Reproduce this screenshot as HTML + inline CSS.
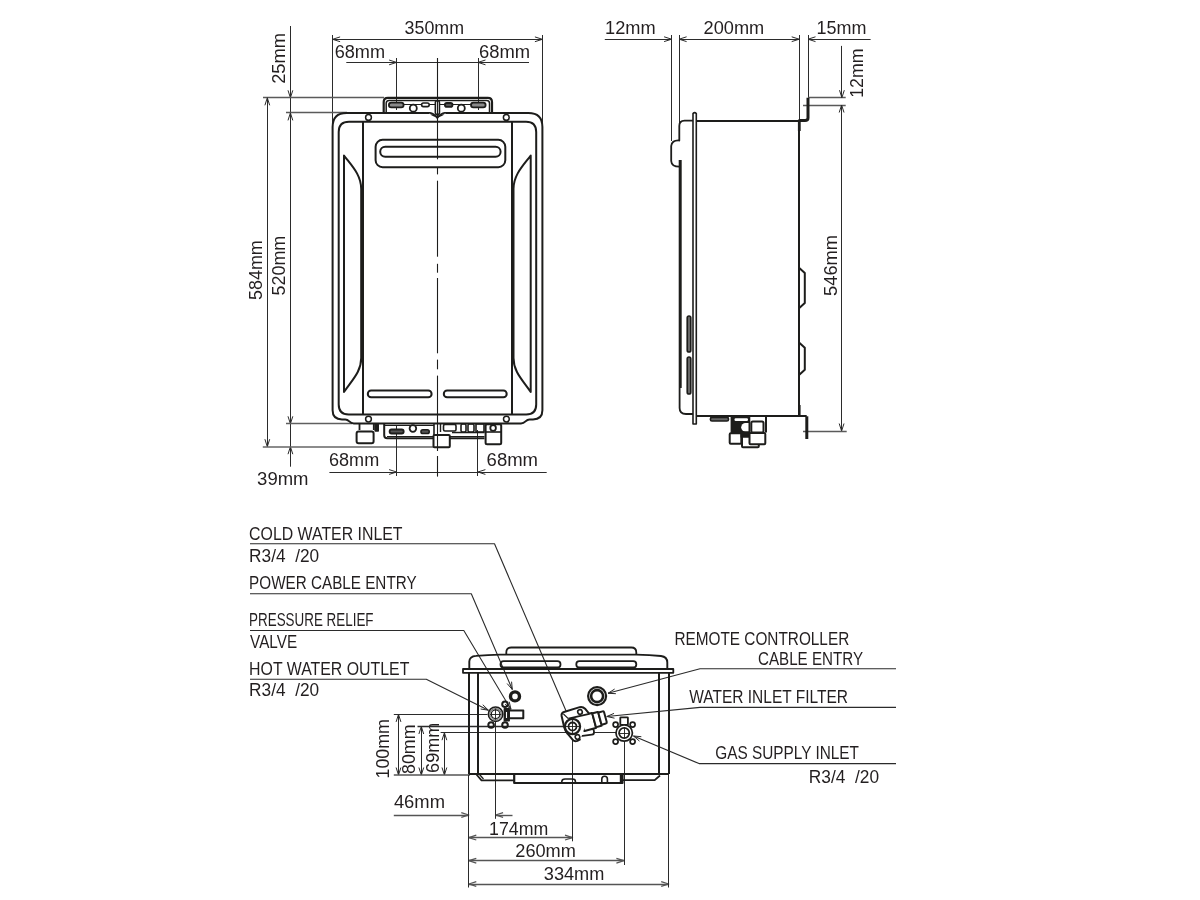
<!DOCTYPE html>
<html><head><meta charset="utf-8"><style>
html,body{margin:0;padding:0;background:#fff;width:1200px;height:900px;overflow:hidden}
svg{display:block;will-change:transform}
text{font-family:"Liberation Sans",sans-serif}
</style></head><body>
<svg width="1200" height="900" viewBox="0 0 1200 900" stroke-linecap="butt" stroke-linejoin="round">
<rect width="1200" height="900" fill="#fff"/>
<text x="404.6" y="34" font-size="17.5" textLength="59.47" lengthAdjust="spacingAndGlyphs" fill="#231f20">350mm</text>
<text x="334.7" y="57.5" font-size="17.5" textLength="50.37" lengthAdjust="spacingAndGlyphs" fill="#231f20">68mm</text>
<text x="479" y="57.5" font-size="17.5" textLength="51.09" lengthAdjust="spacingAndGlyphs" fill="#231f20">68mm</text>
<text x="329" y="465.6" font-size="17.5" textLength="50.21" lengthAdjust="spacingAndGlyphs" fill="#231f20">68mm</text>
<text x="486.6" y="465.9" font-size="17.5" textLength="51.41" lengthAdjust="spacingAndGlyphs" fill="#231f20">68mm</text>
<text x="257.1" y="485.2" font-size="17.5" textLength="51.41" lengthAdjust="spacingAndGlyphs" fill="#231f20">39mm</text>
<text transform="translate(285.1,295.4) rotate(-90)" font-size="17.5" textLength="59.67" lengthAdjust="spacingAndGlyphs" fill="#231f20">520mm</text>
<text transform="translate(262.4,299.9) rotate(-90)" font-size="17.5" textLength="59.67" lengthAdjust="spacingAndGlyphs" fill="#231f20">584mm</text>
<text transform="translate(285,83.8) rotate(-90)" font-size="17.5" textLength="50.7" lengthAdjust="spacingAndGlyphs" fill="#231f20">25mm</text>
<line x1="332.6" y1="39.5" x2="542.4" y2="39.5" stroke="#2b2b2b" stroke-width="1.0"/>
<path d="M340.1,36.9 L332.6,39.3 L340.1,41.7" stroke="#2b2b2b" stroke-width="1.0" fill="none"/>
<path d="M534.9,41.7 L542.4,39.3 L534.9,36.9" stroke="#2b2b2b" stroke-width="1.0" fill="none"/>
<line x1="332.5" y1="35" x2="332.5" y2="127" stroke="#2b2b2b" stroke-width="1.0"/>
<line x1="542.5" y1="35" x2="542.5" y2="127" stroke="#2b2b2b" stroke-width="1.0"/>
<line x1="346.3" y1="62.5" x2="529" y2="62.5" stroke="#2b2b2b" stroke-width="1.0"/>
<path d="M389.1,64.8 L396.6,62.4 L389.1,60" stroke="#2b2b2b" stroke-width="1.0" fill="none"/>
<path d="M485.5,60 L478,62.4 L485.5,64.8" stroke="#2b2b2b" stroke-width="1.0" fill="none"/>
<line x1="396.5" y1="58" x2="396.5" y2="110" stroke="#2b2b2b" stroke-width="1.0"/>
<line x1="478.5" y1="58" x2="478.5" y2="110" stroke="#2b2b2b" stroke-width="1.0"/>
<line x1="290.5" y1="26" x2="290.5" y2="112.9" stroke="#2b2b2b" stroke-width="1.0"/>
<path d="M288,90.3 L290.4,97.8 L292.8,90.3" stroke="#2b2b2b" stroke-width="1.0" fill="none"/>
<line x1="263" y1="97.5" x2="384" y2="97.5" stroke="#5a5a5a" stroke-width="1.4"/>
<line x1="286" y1="112.5" x2="347" y2="112.5" stroke="#5a5a5a" stroke-width="1.4"/>
<line x1="267.5" y1="97.8" x2="267.5" y2="446.7" stroke="#2b2b2b" stroke-width="1.0"/>
<path d="M269.7,105.3 L267.3,97.8 L264.9,105.3" stroke="#2b2b2b" stroke-width="1.0" fill="none"/>
<path d="M264.9,439.2 L267.3,446.7 L269.7,439.2" stroke="#2b2b2b" stroke-width="1.0" fill="none"/>
<line x1="290.5" y1="112.9" x2="290.5" y2="466.7" stroke="#2b2b2b" stroke-width="1.0"/>
<path d="M292.8,120.4 L290.4,112.9 L288,120.4" stroke="#2b2b2b" stroke-width="1.0" fill="none"/>
<path d="M288,416.3 L290.4,423.8 L292.8,416.3" stroke="#2b2b2b" stroke-width="1.0" fill="none"/>
<path d="M292.8,454.2 L290.4,446.7 L288,454.2" stroke="#2b2b2b" stroke-width="1.0" fill="none"/>
<line x1="286" y1="423.5" x2="352" y2="423.5" stroke="#5f5f5f" stroke-width="1.5"/>
<line x1="262.8" y1="447" x2="433.5" y2="447" stroke="#666" stroke-width="1.7"/>
<line x1="329.4" y1="472.5" x2="546.7" y2="472.5" stroke="#2b2b2b" stroke-width="1.0"/>
<path d="M389.1,474.4 L396.6,472 L389.1,469.6" stroke="#2b2b2b" stroke-width="1.0" fill="none"/>
<path d="M485.4,469.6 L477.9,472 L485.4,474.4" stroke="#2b2b2b" stroke-width="1.0" fill="none"/>
<line x1="396.5" y1="426" x2="396.5" y2="476" stroke="#2b2b2b" stroke-width="1.0"/>
<line x1="477.5" y1="430" x2="477.5" y2="476" stroke="#2b2b2b" stroke-width="1.0"/>
<path d="M332.6,410.3 L332.6,126.9 Q332.6,112.9 346.6,112.9 L528.4,112.9 Q542.4,112.9 542.4,126.9 L542.4,410.3 Q542.4,419.4 533,419.4 L529.5,419.4 Q527.5,419.4 525.5,421.4 Q523.5,423.4 521,423.4 L353.8,423.4 Q351.3,423.4 349.3,421.4 Q347.3,419.4 345.3,419.4 L342,419.4 Q332.6,419.4 332.6,410.3 Z" stroke="#1d1d1b" stroke-width="2.0" fill="none"/>
<path d="M430,113 Q437.3,120 444.6,113" stroke="#1d1d1b" stroke-width="1.6" fill="none"/>
<path d="M338.7,404.5 L338.7,132 Q338.7,121.7 349,121.7 L526,121.7 Q536.2,121.7 536.2,132 L536.2,404.5 Q536.2,414.5 526.2,414.5 L348.7,414.5 Q338.7,414.5 338.7,404.5 Z" stroke="#1d1d1b" stroke-width="2.0" fill="none"/>
<line x1="363" y1="121.7" x2="363" y2="414.5" stroke="#1d1d1b" stroke-width="2.0"/>
<line x1="512" y1="121.7" x2="512" y2="414.5" stroke="#1d1d1b" stroke-width="2.0"/>
<circle cx="368.5" cy="117.4" r="2.9" stroke="#1d1d1b" stroke-width="1.5" fill="none"/>
<circle cx="506.3" cy="117.4" r="2.9" stroke="#1d1d1b" stroke-width="1.5" fill="none"/>
<circle cx="368.5" cy="419.1" r="2.9" stroke="#1d1d1b" stroke-width="1.5" fill="none"/>
<circle cx="506.4" cy="419.1" r="2.9" stroke="#1d1d1b" stroke-width="1.5" fill="none"/>
<rect x="375.6" y="139.8" width="129.7" height="27.4" rx="7" stroke="#1d1d1b" stroke-width="2.0" fill="none"/>
<rect x="380.2" y="146.7" width="120.4" height="10" rx="5" stroke="#1d1d1b" stroke-width="2.0" fill="none"/>
<path d="M344,392 L344,155.6 C352,166 361.2,175 361.2,189 L361.2,358 C361.2,372 352,380 344,392 Z" stroke="#1d1d1b" stroke-width="2.0" fill="none"/>
<path d="M530.7,392 L530.7,155.6 C522.7,166 513.5,175 513.5,189 L513.5,358 C513.5,372 522.7,380 530.7,392 Z" stroke="#1d1d1b" stroke-width="2.0" fill="none"/>
<rect x="367.8" y="390.6" width="63.8" height="6.6" rx="3.3" stroke="#1d1d1b" stroke-width="2.0" fill="none"/>
<rect x="443.8" y="390.6" width="62.9" height="6.6" rx="3.3" stroke="#1d1d1b" stroke-width="2.0" fill="none"/>
<path d="M383.7,112.9 L383.7,102 Q383.7,97.8 387.9,97.8 L487.8,97.8 Q492,97.8 492,102 L492,112.9" stroke="#1d1d1b" stroke-width="2.2" fill="none"/>
<path d="M386.2,112.9 L386.2,103.2 Q386.2,100.4 389,100.4 L486.7,100.4 Q489.5,100.4 489.5,103.2 L489.5,112.9" stroke="#1d1d1b" stroke-width="1.5" fill="none"/>
<line x1="390" y1="104.5" x2="486" y2="104.5" stroke="#1d1d1b" stroke-width="1.0"/>
<rect x="388.9" y="102.6" width="14.7" height="4.8" rx="2.4" stroke="#1d1d1b" stroke-width="1.8" fill="#8a8a8a"/>
<circle cx="413.3" cy="108.2" r="3.5" stroke="#1d1d1b" stroke-width="1.8" fill="#fff"/>
<rect x="421.6" y="103" width="7.6" height="3.6" rx="1.8" stroke="#1d1d1b" stroke-width="1.6" fill="#fff"/>
<rect x="444.9" y="103" width="7.6" height="3.8" rx="1.9" stroke="#1d1d1b" stroke-width="1.8" fill="#555"/>
<circle cx="461.3" cy="108.2" r="3.5" stroke="#1d1d1b" stroke-width="1.8" fill="#fff"/>
<rect x="471" y="102.6" width="14.6" height="4.8" rx="2.4" stroke="#1d1d1b" stroke-width="1.8" fill="#8a8a8a"/>
<rect x="429" y="111.6" width="17" height="2.8" rx="0" stroke="none" stroke-width="0" fill="#fff"/>
<path d="M427.5,112.9 L430,112.9 Q433.5,113.2 437.3,118 Q441.1,113.2 444.6,112.9 L447,112.9" stroke="#1d1d1b" stroke-width="1.8" fill="none"/>
<rect x="435.3" y="100.8" width="4.2" height="13.7" rx="2.1" stroke="#1d1d1b" stroke-width="1.5" fill="#fff"/>
<line x1="437.5" y1="103" x2="437.5" y2="112.5" stroke="#555" stroke-width="1.2"/>
<path d="M359.5,423.4 L359.5,430 M373.8,423.4 L373.8,430" stroke="#1d1d1b" stroke-width="1.8" fill="none"/>
<rect x="356.6" y="431.4" width="17" height="11.9" rx="2" stroke="#1d1d1b" stroke-width="2.0" fill="none"/>
<rect x="375.2" y="424.4" width="3" height="6.6" rx="0" stroke="#1d1d1b" stroke-width="1.6" fill="#1d1d1b"/>
<path d="M384.2,423.4 L384.2,435.3 Q384.2,438.3 387.2,438.3 L484.5,438.3" stroke="#1d1d1b" stroke-width="2.0" fill="none"/>
<line x1="387" y1="436.5" x2="484.5" y2="436.5" stroke="#1d1d1b" stroke-width="1.0"/>
<line x1="384.5" y1="425.5" x2="434" y2="425.5" stroke="#1d1d1b" stroke-width="1.2"/>
<rect x="389.6" y="429.5" width="14.1" height="4" rx="2" stroke="#1d1d1b" stroke-width="1.8" fill="#555"/>
<circle cx="412.9" cy="428.5" r="3.3" stroke="#1d1d1b" stroke-width="1.8" fill="none"/>
<rect x="421" y="429.7" width="8.2" height="3.8" rx="1.8" stroke="#1d1d1b" stroke-width="1.6" fill="#555"/>
<rect x="433.5" y="435" width="16.3" height="12.3" rx="1" stroke="#1d1d1b" stroke-width="2.0" fill="#fff"/>
<line x1="434" y1="423.4" x2="434" y2="435" stroke="#1d1d1b" stroke-width="1.6"/>
<line x1="440.5" y1="423.4" x2="440.5" y2="432" stroke="#1d1d1b" stroke-width="1.4"/>
<rect x="443.5" y="424.4" width="12.5" height="6.6" rx="1.5" stroke="#1d1d1b" stroke-width="1.6" fill="none"/>
<rect x="461" y="424" width="5" height="8" rx="1.5" stroke="#1d1d1b" stroke-width="1.6" fill="none"/>
<rect x="468" y="424" width="6" height="8" rx="1.5" stroke="#1d1d1b" stroke-width="1.6" fill="none"/>
<rect x="476" y="424" width="8" height="8" rx="0" stroke="#1d1d1b" stroke-width="1.6" fill="none"/>
<line x1="452" y1="432.5" x2="484.5" y2="432.5" stroke="#1d1d1b" stroke-width="1.4"/>
<rect x="485.6" y="424.2" width="15.6" height="20.1" rx="1.5" stroke="#1d1d1b" stroke-width="2.0" fill="none"/>
<line x1="485.6" y1="432" x2="501.2" y2="432" stroke="#1d1d1b" stroke-width="1.6"/>
<circle cx="493.1" cy="428" r="2.8" stroke="#1d1d1b" stroke-width="1.8" fill="none"/>
<line x1="437.5" y1="58" x2="437.5" y2="159.3" stroke="#1d1d1b" stroke-width="1.1"/>
<line x1="437.5" y1="167.3" x2="437.5" y2="174.4" stroke="#1d1d1b" stroke-width="1.1"/>
<line x1="437.5" y1="180.7" x2="437.5" y2="256.7" stroke="#1d1d1b" stroke-width="1.1"/>
<line x1="437.5" y1="263.8" x2="437.5" y2="272.7" stroke="#1d1d1b" stroke-width="1.1"/>
<line x1="437.5" y1="278" x2="437.5" y2="353.3" stroke="#1d1d1b" stroke-width="1.1"/>
<line x1="437.5" y1="359.6" x2="437.5" y2="369.3" stroke="#1d1d1b" stroke-width="1.1"/>
<line x1="437.5" y1="375.6" x2="437.5" y2="451" stroke="#1d1d1b" stroke-width="1.1"/>
<line x1="437.5" y1="456" x2="437.5" y2="476.6" stroke="#1d1d1b" stroke-width="1.1"/>
<text x="605.1" y="33.8" font-size="17.5" textLength="50.6" lengthAdjust="spacingAndGlyphs" fill="#231f20">12mm</text>
<text x="703.6" y="33.8" font-size="17.5" textLength="60.62" lengthAdjust="spacingAndGlyphs" fill="#231f20">200mm</text>
<text x="816.6" y="33.8" font-size="17.5" textLength="49.94" lengthAdjust="spacingAndGlyphs" fill="#231f20">15mm</text>
<text transform="translate(863.3,97.8) rotate(-90)" font-size="17.5" textLength="49.37" lengthAdjust="spacingAndGlyphs" fill="#231f20">12mm</text>
<text transform="translate(837.1,295.9) rotate(-90)" font-size="17.5" textLength="60.98" lengthAdjust="spacingAndGlyphs" fill="#231f20">546mm</text>
<line x1="604.8" y1="39.5" x2="671.6" y2="39.5" stroke="#2b2b2b" stroke-width="1.0"/>
<path d="M664.1,41.6 L671.6,39.2 L664.1,36.8" stroke="#2b2b2b" stroke-width="1.0" fill="none"/>
<line x1="679.1" y1="39.5" x2="799.2" y2="39.5" stroke="#2b2b2b" stroke-width="1.0"/>
<path d="M686.6,36.8 L679.1,39.2 L686.6,41.6" stroke="#2b2b2b" stroke-width="1.0" fill="none"/>
<path d="M791.7,41.6 L799.2,39.2 L791.7,36.8" stroke="#2b2b2b" stroke-width="1.0" fill="none"/>
<line x1="808" y1="39.5" x2="870.6" y2="39.5" stroke="#2b2b2b" stroke-width="1.0"/>
<path d="M815.5,36.8 L808,39.2 L815.5,41.6" stroke="#2b2b2b" stroke-width="1.0" fill="none"/>
<line x1="671.5" y1="35" x2="671.5" y2="141" stroke="#2b2b2b" stroke-width="1.0"/>
<line x1="679.5" y1="35" x2="679.5" y2="124" stroke="#2b2b2b" stroke-width="1.0"/>
<line x1="799.5" y1="35" x2="799.5" y2="121" stroke="#2b2b2b" stroke-width="1.0"/>
<line x1="808.5" y1="35" x2="808.5" y2="98" stroke="#2b2b2b" stroke-width="1.0"/>
<line x1="808" y1="97.5" x2="845.7" y2="97.5" stroke="#5a5a5a" stroke-width="1.4"/>
<line x1="803" y1="105.5" x2="845.7" y2="105.5" stroke="#5a5a5a" stroke-width="1.4"/>
<line x1="841.5" y1="45.9" x2="841.5" y2="97.7" stroke="#2b2b2b" stroke-width="1.0"/>
<path d="M839.5,90.2 L841.9,97.7 L844.3,90.2" stroke="#2b2b2b" stroke-width="1.0" fill="none"/>
<line x1="841.5" y1="105" x2="841.5" y2="431" stroke="#2b2b2b" stroke-width="1.0"/>
<path d="M844,112.5 L841.6,105 L839.2,112.5" stroke="#2b2b2b" stroke-width="1.0" fill="none"/>
<path d="M839.2,423.5 L841.6,431 L844,423.5" stroke="#2b2b2b" stroke-width="1.0" fill="none"/>
<line x1="803" y1="431.5" x2="846.7" y2="431.5" stroke="#5a5a5a" stroke-width="1.4"/>
<path d="M693,424 L693,113.6 Q694.6,111.6 696.3,113.6 L696.3,424 Z" stroke="#1d1d1b" stroke-width="1.6" fill="none"/>
<line x1="696.3" y1="121" x2="799.3" y2="121" stroke="#1d1d1b" stroke-width="2.0"/>
<line x1="799" y1="120.6" x2="799" y2="416.3" stroke="#1d1d1b" stroke-width="2.0"/>
<line x1="696.3" y1="416" x2="806.7" y2="416" stroke="#1d1d1b" stroke-width="2.0"/>
<path d="M799.3,268 L804.8,273 L804.8,303 L799.3,308" stroke="#1d1d1b" stroke-width="2.0" fill="none"/>
<path d="M799.3,342.7 L804.8,347.7 L804.8,369.7 L799.3,374.7" stroke="#1d1d1b" stroke-width="2.0" fill="none"/>
<path d="M808,97.7 L808,118 Q808,120.6 805,120.6 L798.5,120.6" stroke="#1d1d1b" stroke-width="3.0" fill="none"/>
<path d="M799.3,120.6 L799.3,131" stroke="#1d1d1b" stroke-width="2.8" fill="none"/>
<path d="M806.8,416.3 L806.8,439" stroke="#1d1d1b" stroke-width="3.0" fill="none"/>
<line x1="799.3" y1="405" x2="799.3" y2="416.3" stroke="#1d1d1b" stroke-width="2.6"/>
<path d="M693,120.6 L684.5,120.6 Q679.3,120.6 679.3,126 L679.3,140.5 Q672,140 671.2,146 L671.2,161 Q671.5,166.7 679.5,166.7" stroke="#1d1d1b" stroke-width="1.8" fill="none"/>
<path d="M680.2,160 L680.2,388" stroke="#1d1d1b" stroke-width="3.0" fill="none"/>
<path d="M679.6,388 L679.6,408 Q679.6,414 686,414 L693,414" stroke="#1d1d1b" stroke-width="1.8" fill="none"/>
<rect x="687.2" y="316" width="3.6" height="36" rx="1.8" stroke="#1d1d1b" stroke-width="1.6" fill="#666"/>
<rect x="687.2" y="357" width="3.6" height="37" rx="1.8" stroke="#1d1d1b" stroke-width="1.6" fill="#666"/>
<rect x="710.4" y="417.4" width="18.1" height="3.6" rx="1.6" stroke="#1d1d1b" stroke-width="1.6" fill="#666"/>
<rect x="731.4" y="416.3" width="18.1" height="16.2" rx="0" stroke="#1d1d1b" stroke-width="1.6" fill="#1d1d1b"/>
<rect x="734.5" y="418.3" width="13.5" height="2.7" rx="1.2" stroke="none" stroke-width="0" fill="#fff"/>
<path d="M745.5,423 A4.3,4.3 0 0 0 745.5,431.6 L748.5,431.6 L748.5,423 Z" stroke="none" stroke-width="0" fill="#fff"/>
<rect x="751.3" y="421.5" width="12.2" height="11.1" rx="1.5" stroke="#1d1d1b" stroke-width="2.0" fill="#fff"/>
<line x1="766" y1="416.3" x2="766" y2="432.6" stroke="#1d1d1b" stroke-width="2.0"/>
<rect x="729.7" y="433.2" width="11.6" height="10.5" rx="1" stroke="#1d1d1b" stroke-width="2.0" fill="#fff"/>
<rect x="740.5" y="431.5" width="9" height="6" rx="0" stroke="none" stroke-width="0" fill="#1d1d1b"/>
<rect x="742" y="436.7" width="16.8" height="10.5" rx="1" stroke="#1d1d1b" stroke-width="2.0" fill="#fff"/>
<rect x="749.5" y="433" width="15.8" height="11.3" rx="1" stroke="#1d1d1b" stroke-width="2.0" fill="#fff"/>
<text x="249.1" y="539.9" font-size="17.5" textLength="153.42" lengthAdjust="spacingAndGlyphs" fill="#231f20">COLD WATER INLET</text>
<text x="249.1" y="561.9" font-size="17.5" textLength="70.06" lengthAdjust="spacingAndGlyphs" fill="#231f20">R3/4&#160;&#160;/20</text>
<text x="249.1" y="589.4" font-size="17.5" textLength="167.52" lengthAdjust="spacingAndGlyphs" fill="#231f20">POWER CABLE ENTRY</text>
<text x="249.1" y="626.4" font-size="17.5" textLength="124.43" lengthAdjust="spacingAndGlyphs" fill="#231f20">PRESSURE RELIEF</text>
<text x="250.1" y="648.1" font-size="17.5" textLength="47.04" lengthAdjust="spacingAndGlyphs" fill="#231f20">VALVE</text>
<text x="249.1" y="674.9" font-size="17.5" textLength="160.32" lengthAdjust="spacingAndGlyphs" fill="#231f20">HOT WATER OUTLET</text>
<text x="249.1" y="695.5" font-size="17.5" textLength="70.06" lengthAdjust="spacingAndGlyphs" fill="#231f20">R3/4&#160;&#160;/20</text>
<text x="674.4" y="645.1" font-size="17.5" textLength="174.82" lengthAdjust="spacingAndGlyphs" fill="#231f20">REMOTE CONTROLLER</text>
<text x="758" y="665" font-size="17.5" textLength="105.01" lengthAdjust="spacingAndGlyphs" fill="#231f20">CABLE ENTRY</text>
<text x="689.2" y="702.8" font-size="17.5" textLength="158.82" lengthAdjust="spacingAndGlyphs" fill="#231f20">WATER INLET FILTER</text>
<text x="715.2" y="759" font-size="17.5" textLength="143.81" lengthAdjust="spacingAndGlyphs" fill="#231f20">GAS SUPPLY INLET</text>
<text x="808.8" y="783.2" font-size="17.5" textLength="70.28" lengthAdjust="spacingAndGlyphs" fill="#231f20">R3/4&#160;&#160;/20</text>
<path d="M250,543.8 L494.5,543.8 L566.5,712" stroke="#2b2b2b" stroke-width="1.1" fill="none"/>
<path d="M250,593.8 L471.3,593.8 L512.3,689.5" stroke="#2b2b2b" stroke-width="1.1" fill="none"/>
<path d="M507.14,683.55 L512.3,689.5 L511.55,681.66" stroke="#2b2b2b" stroke-width="1.0" fill="none"/>
<path d="M250,630.5 L463.8,630.5 L511,709.4" stroke="#2b2b2b" stroke-width="1.1" fill="none"/>
<path d="M505.09,704.2 L511,709.4 L509.21,701.73" stroke="#2b2b2b" stroke-width="1.0" fill="none"/>
<path d="M250,679.3 L426.3,679.3 L488.4,710.2" stroke="#2b2b2b" stroke-width="1.1" fill="none"/>
<path d="M480.62,709.01 L488.4,710.2 L482.75,704.71" stroke="#2b2b2b" stroke-width="1.0" fill="none"/>
<path d="M896,668.7 L700,668.7 L608,693.3" stroke="#2b2b2b" stroke-width="1.1" fill="none"/>
<path d="M614.63,689.04 L608,693.3 L615.87,693.68" stroke="#2b2b2b" stroke-width="1.0" fill="none"/>
<path d="M896,707.4 L700,707.4 L606.8,716.5" stroke="#2b2b2b" stroke-width="1.1" fill="none"/>
<path d="M614.03,713.38 L606.8,716.5 L614.5,718.16" stroke="#2b2b2b" stroke-width="1.0" fill="none"/>
<path d="M896,763.6 L699,763.6 L633.5,736" stroke="#2b2b2b" stroke-width="1.1" fill="none"/>
<path d="M641.34,736.7 L633.5,736 L639.48,741.12" stroke="#2b2b2b" stroke-width="1.0" fill="none"/>
<text transform="translate(388.8,778.5) rotate(-90)" font-size="17.5" textLength="59.43" lengthAdjust="spacingAndGlyphs" fill="#231f20">100mm</text>
<text transform="translate(414.8,774) rotate(-90)" font-size="17.5" textLength="49.46" lengthAdjust="spacingAndGlyphs" fill="#231f20">80mm</text>
<text transform="translate(438.8,772.9) rotate(-90)" font-size="17.5" textLength="50.19" lengthAdjust="spacingAndGlyphs" fill="#231f20">69mm</text>
<line x1="398.5" y1="714.4" x2="398.5" y2="775" stroke="#2b2b2b" stroke-width="1.0"/>
<path d="M400.9,721.9 L398.5,714.4 L396.1,721.9" stroke="#2b2b2b" stroke-width="1.0" fill="none"/>
<path d="M396.1,767.5 L398.5,775 L400.9,767.5" stroke="#2b2b2b" stroke-width="1.0" fill="none"/>
<line x1="421.5" y1="726.5" x2="421.5" y2="775" stroke="#2b2b2b" stroke-width="1.0"/>
<path d="M423.7,734 L421.3,726.5 L418.9,734" stroke="#2b2b2b" stroke-width="1.0" fill="none"/>
<path d="M418.9,767.5 L421.3,775 L423.7,767.5" stroke="#2b2b2b" stroke-width="1.0" fill="none"/>
<line x1="444.5" y1="732.7" x2="444.5" y2="775" stroke="#2b2b2b" stroke-width="1.0"/>
<path d="M446.8,740.2 L444.4,732.7 L442,740.2" stroke="#2b2b2b" stroke-width="1.0" fill="none"/>
<path d="M442,767.5 L444.4,775 L446.8,767.5" stroke="#2b2b2b" stroke-width="1.0" fill="none"/>
<line x1="393.8" y1="714.5" x2="487.5" y2="714.5" stroke="#2b2b2b" stroke-width="1.0"/>
<line x1="417.5" y1="726.5" x2="565" y2="726.5" stroke="#2b2b2b" stroke-width="1.3"/>
<line x1="440.6" y1="732.5" x2="616" y2="732.5" stroke="#2b2b2b" stroke-width="1.1"/>
<line x1="393.8" y1="775" x2="470" y2="775" stroke="#555" stroke-width="1.6"/>
<text x="393.9" y="807.9" font-size="17.5" textLength="51.06" lengthAdjust="spacingAndGlyphs" fill="#231f20">46mm</text>
<text x="489" y="834.7" font-size="17.5" textLength="59.25" lengthAdjust="spacingAndGlyphs" fill="#231f20">174mm</text>
<text x="515.3" y="857.1" font-size="17.5" textLength="60.58" lengthAdjust="spacingAndGlyphs" fill="#231f20">260mm</text>
<text x="543.8" y="880.1" font-size="17.5" textLength="60.6" lengthAdjust="spacingAndGlyphs" fill="#231f20">334mm</text>
<line x1="393.8" y1="815.5" x2="468.8" y2="815.5" stroke="#555" stroke-width="1.4"/>
<path d="M461.3,817.4 L468.8,815 L461.3,812.6" stroke="#555" stroke-width="1.3" fill="none"/>
<line x1="495.6" y1="815.5" x2="512.5" y2="815.5" stroke="#555" stroke-width="1.4"/>
<path d="M503.1,812.6 L495.6,815 L503.1,817.4" stroke="#555" stroke-width="1.3" fill="none"/>
<line x1="468.8" y1="837.5" x2="572.5" y2="837.5" stroke="#555" stroke-width="1.4"/>
<path d="M476.3,835.2 L468.8,837.6 L476.3,840" stroke="#555" stroke-width="1.3" fill="none"/>
<path d="M565,840 L572.5,837.6 L565,835.2" stroke="#555" stroke-width="1.3" fill="none"/>
<line x1="468.8" y1="860.5" x2="623.9" y2="860.5" stroke="#555" stroke-width="1.4"/>
<path d="M476.3,858.3 L468.8,860.7 L476.3,863.1" stroke="#555" stroke-width="1.3" fill="none"/>
<path d="M616.4,863.1 L623.9,860.7 L616.4,858.3" stroke="#555" stroke-width="1.3" fill="none"/>
<line x1="468.8" y1="884.5" x2="668.7" y2="884.5" stroke="#555" stroke-width="1.4"/>
<path d="M476.3,881.6 L468.8,884 L476.3,886.4" stroke="#555" stroke-width="1.3" fill="none"/>
<path d="M661.2,886.4 L668.7,884 L661.2,881.6" stroke="#555" stroke-width="1.3" fill="none"/>
<line x1="468.5" y1="775" x2="468.5" y2="887.5" stroke="#2b2b2b" stroke-width="1.0"/>
<line x1="495.5" y1="722" x2="495.5" y2="818.8" stroke="#2b2b2b" stroke-width="1.0"/>
<line x1="572.5" y1="734" x2="572.5" y2="841.3" stroke="#2b2b2b" stroke-width="1.0"/>
<line x1="624.5" y1="741" x2="624.5" y2="865" stroke="#2b2b2b" stroke-width="1.0"/>
<line x1="668.5" y1="672" x2="668.5" y2="887.5" stroke="#2b2b2b" stroke-width="1.0"/>
<path d="M463,669 L673.3,669 L673.3,672.8 L463,672.8 Z" stroke="#1d1d1b" stroke-width="1.8" fill="none"/>
<path d="M469.3,669 L469.3,661.5 Q469.5,656.4 476,655.9 Q488,654.7 500,654.6 L636,654.6 Q650,654.7 661,656 Q667.3,656.9 667.3,662.5 L667.3,669" stroke="#1d1d1b" stroke-width="1.9" fill="none"/>
<path d="M506.3,654.5 L506.3,652.5 Q506.3,647.5 511.3,647.5 L631.3,647.5 Q636.3,647.5 636.3,652.5 L636.3,654.5" stroke="#1d1d1b" stroke-width="1.8" fill="none"/>
<rect x="500.5" y="661.2" width="60" height="6.3" rx="3.1" stroke="#1d1d1b" stroke-width="1.8" fill="none"/>
<rect x="576.3" y="661.2" width="60" height="6.3" rx="3.1" stroke="#1d1d1b" stroke-width="1.8" fill="none"/>
<line x1="469" y1="672.8" x2="469" y2="774" stroke="#1d1d1b" stroke-width="2.0"/>
<line x1="478" y1="672.8" x2="478" y2="774" stroke="#1d1d1b" stroke-width="2.0"/>
<line x1="659" y1="672.8" x2="659" y2="774" stroke="#1d1d1b" stroke-width="2.0"/>
<line x1="669" y1="672.8" x2="669" y2="774" stroke="#1d1d1b" stroke-width="2.0"/>
<line x1="468.7" y1="774" x2="668.7" y2="774" stroke="#1d1d1b" stroke-width="2.0"/>
<path d="M476.5,774.5 L481.5,780.3 L514,780.3" stroke="#1d1d1b" stroke-width="1.8" fill="none"/>
<path d="M479.5,774.5 L483.5,779" stroke="#1d1d1b" stroke-width="1.2" fill="none"/>
<path d="M622.5,780.2 L654.7,780.2 L660,775.5" stroke="#1d1d1b" stroke-width="1.8" fill="none"/>
<path d="M514.2,774 L514.2,783 L622.5,783 L622.5,774" stroke="#1d1d1b" stroke-width="2.2" fill="none"/>
<path d="M601.8,783 L601.8,779 A2.8,2.8 0 0 1 607.4,779 L607.4,783" stroke="#1d1d1b" stroke-width="1.6" fill="none"/>
<path d="M561.8,783 L561.8,781.5 Q562,779 565,779 L572.5,779 Q575.4,779 575.4,781.5 L575.4,783" stroke="#1d1d1b" stroke-width="1.6" fill="none"/>
<line x1="621" y1="774" x2="621" y2="783.5" stroke="#1d1d1b" stroke-width="2.4"/>
<circle cx="515" cy="696.4" r="4.5" stroke="#1d1d1b" stroke-width="3.4" fill="none"/>
<circle cx="597.1" cy="696.1" r="9" stroke="#1d1d1b" stroke-width="2.2" fill="none"/>
<circle cx="597.1" cy="696.1" r="6" stroke="#1d1d1b" stroke-width="2.6" fill="none"/>
<circle cx="495.6" cy="714.2" r="7.2" stroke="#1d1d1b" stroke-width="1.6" fill="none"/>
<circle cx="495.6" cy="714.2" r="5.7" stroke="#1d1d1b" stroke-width="0.6" fill="none"/>
<circle cx="495.6" cy="714.2" r="4.3" stroke="#1d1d1b" stroke-width="1.2" fill="none"/>
<line x1="490" y1="714.5" x2="501.2" y2="714.5" stroke="#1d1d1b" stroke-width="0.9"/>
<line x1="495.5" y1="708.6" x2="495.5" y2="719.8" stroke="#1d1d1b" stroke-width="0.9"/>
<circle cx="491.1" cy="725" r="2.8" stroke="#1d1d1b" stroke-width="2.0" fill="none"/>
<circle cx="505" cy="725" r="2.8" stroke="#1d1d1b" stroke-width="2.0" fill="none"/>
<circle cx="505" cy="704.2" r="2.8" stroke="#1d1d1b" stroke-width="2.0" fill="none"/>
<rect x="504.3" y="708.6" width="4.9" height="12.2" rx="0" stroke="#1d1d1b" stroke-width="1.4" fill="#1d1d1b"/>
<line x1="506.5" y1="712" x2="506.5" y2="718" stroke="#fff" stroke-width="1.1"/>
<rect x="508.9" y="710.6" width="14.4" height="7.7" rx="0" stroke="#1d1d1b" stroke-width="2.0" fill="none"/>
<rect x="579.5" y="729.3" width="14.5" height="6" rx="2.5" stroke="#1d1d1b" stroke-width="1.8" fill="#fff" transform="rotate(-8 586.7 732.3)"/>
<g transform="translate(572.5,726.5) rotate(-15)">
<rect x="10" y="-8" width="12.5" height="15.5" rx="0.5" stroke="#1d1d1b" stroke-width="2.0" fill="#fff"/>
<rect x="22.5" y="-7.5" width="6" height="14.3" rx="0.5" stroke="#1d1d1b" stroke-width="2.0" fill="#fff"/>
<rect x="28.5" y="-6.8" width="5.7" height="12.6" rx="1.2" stroke="#1d1d1b" stroke-width="2.0" fill="#fff"/>
<path d="M19.5,-7.8 L17,-13.5 Q15,-16.8 12,-16.8 L-4.5,-16.2 Q-7.5,-16 -7.8,-13 L-8.2,-1 Q-8,3 -6.5,6 L-3.2,13 Q-2,15.6 1,15.2 L4.5,14.3" stroke="#1d1d1b" stroke-width="2.0" fill="#fff"/>
<line x1="-2" y1="-8.7" x2="19.5" y2="-7.8" stroke="#1d1d1b" stroke-width="1.8"/>
<line x1="-5.5" y1="-14.4" x2="-2" y2="-8.7" stroke="#1d1d1b" stroke-width="1.2"/>
<circle cx="11" cy="-12.1" r="2.3" stroke="#1d1d1b" stroke-width="1.6" fill="none"/>
<circle cx="2.1" cy="11.4" r="2.3" stroke="#1d1d1b" stroke-width="1.6" fill="none"/>
</g>
<circle cx="572.5" cy="726.5" r="7.6" stroke="#1d1d1b" stroke-width="2.2" fill="#fff"/>
<circle cx="572.5" cy="726.5" r="4" stroke="#1d1d1b" stroke-width="1.8" fill="none"/>
<line x1="565.5" y1="726.5" x2="579.5" y2="726.5" stroke="#1d1d1b" stroke-width="0.9"/>
<line x1="572.5" y1="719.5" x2="572.5" y2="733.5" stroke="#1d1d1b" stroke-width="0.9"/>
<circle cx="615.6" cy="724.6" r="2.5" stroke="#1d1d1b" stroke-width="1.7" fill="#fff"/>
<circle cx="632.6" cy="724.6" r="2.5" stroke="#1d1d1b" stroke-width="1.7" fill="#fff"/>
<circle cx="615.6" cy="741.6" r="2.5" stroke="#1d1d1b" stroke-width="1.7" fill="#fff"/>
<circle cx="632.6" cy="741.6" r="2.5" stroke="#1d1d1b" stroke-width="1.7" fill="#fff"/>
<rect x="620.3" y="717.3" width="7.6" height="7.7" rx="0.5" stroke="#1d1d1b" stroke-width="1.8" fill="#fff"/>
<circle cx="624.2" cy="733" r="8.2" stroke="#1d1d1b" stroke-width="1.7" fill="#fff"/>
<circle cx="624.2" cy="733" r="5.1" stroke="#1d1d1b" stroke-width="1.8" fill="none"/>
<line x1="618.5" y1="733.5" x2="630" y2="733.5" stroke="#1d1d1b" stroke-width="0.9"/>
<line x1="624.5" y1="727.3" x2="624.5" y2="738.7" stroke="#1d1d1b" stroke-width="0.9"/>
</svg>
</body></html>
